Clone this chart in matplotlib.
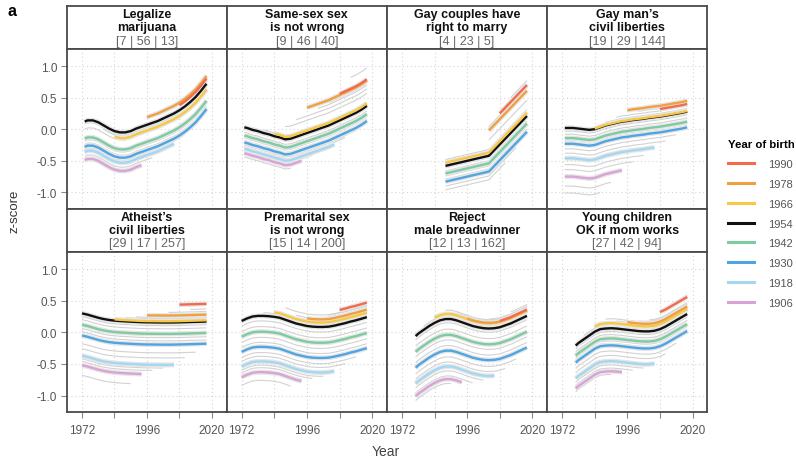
import numpy as np
import matplotlib
matplotlib.use('Agg')
import matplotlib.pyplot as plt
from matplotlib.lines import Line2D

plt.rcParams['font.family'] = ['Liberation Sans', 'DejaVu Sans']

# ---------------- data ----------------
cohorts = [1898, 1902, 1906, 1910, 1914, 1918, 1922, 1926, 1930, 1934, 1938, 1942,
           1946, 1950, 1954, 1958, 1962, 1966, 1970, 1974, 1978, 1982, 1986, 1990, 1994]
highlight = [1990, 1978, 1966, 1954, 1942, 1930, 1918, 1906]
highlight_colors = ['#F26B4F', '#F0A040', '#F7C845', '#111111',
                    '#7ECBA1', '#4FA5E2', '#A5D7F2', '#D9A3D6']

titles = [("Legalize", "marijuana"), ("Same-sex sex", "is not wrong"),
          ("Gay couples have", "right to marry"), ("Gay man\u2019s", "civil liberties"),
          ("Atheist\u2019s", "civil liberties"), ("Premarital sex", "is not wrong"),
          ("Reject", "male breadwinner"), ("Young children", "OK if mom works")]
counts = ["[7 | 56 | 13]", "[9 | 46 | 40]", "[4 | 23 | 5]", "[19 | 29 | 144]",
          "[29 | 17 | 257]", "[15 | 14 | 200]", "[12 | 13 | 162]", "[27 | 42 | 94]"]

years_73 = [1973, 1974, 1976, 1978, 1980, 1982, 1984, 1986, 1988, 1990, 1992, 1994,
            1996, 1998, 2000, 2002, 2004, 2006, 2008, 2010, 2012, 2014, 2016, 2018]
years_72 = [1972, 1974, 1976, 1978, 1980, 1982, 1984, 1986, 1988, 1990, 1992, 1994,
            1996, 1998, 2000, 2002, 2004, 2006, 2008, 2010, 2012, 2014, 2016, 2018]
years_77 = [1977, 1978, 1980, 1982, 1984, 1986, 1988, 1990, 1992, 1994,
            1996, 1998, 2000, 2002, 2004, 2006, 2008, 2010, 2012, 2014, 2016, 2018]
years_88 = [1988, 2004, 2006, 2008, 2010, 2012, 2014, 2016, 2018]

# z-score of the 1954 cohort (black line) in each survey year
ref_marijuana = [0.12, 0.14, 0.14, 0.11, 0.06, 0.01, -0.03, -0.05, -0.05, -0.03, 0.01, 0.04,
                 0.07, 0.10, 0.13, 0.17, 0.21, 0.25, 0.30, 0.36, 0.43, 0.51, 0.61, 0.72]
ref_samesex = [0.03, 0.02, -0.01, -0.03, -0.06, -0.08, -0.11, -0.13, -0.16, -0.15, -0.12, -0.09,
               -0.06, -0.03, 0.00, 0.03, 0.06, 0.10, 0.14, 0.18, 0.22, 0.26, 0.31, 0.37]
ref_marry = [-0.58, -0.42, -0.33, -0.24, -0.15, -0.06, 0.03, 0.12, 0.21]
ref_gayman = [0.02, 0.02, 0.02, 0.01, 0.00, -0.01, 0.00, 0.03, 0.06, 0.08, 0.10, 0.12,
              0.13, 0.145, 0.155, 0.165, 0.18, 0.19, 0.20, 0.215, 0.23, 0.245, 0.26, 0.28]
ref_atheist = [0.30, 0.28, 0.255, 0.23, 0.21, 0.195, 0.185, 0.178, 0.173, 0.168, 0.164, 0.16,
               0.158, 0.157, 0.156, 0.155, 0.155, 0.156, 0.158, 0.16, 0.163, 0.165, 0.168, 0.17]
ref_premarital = [0.18, 0.22, 0.25, 0.26, 0.26, 0.255, 0.245, 0.23, 0.20, 0.17, 0.14, 0.12,
                  0.10, 0.09, 0.085, 0.085, 0.09, 0.105, 0.125, 0.145, 0.17, 0.19, 0.215, 0.24]
ref_breadwinner = [-0.06, -0.02, 0.04, 0.10, 0.15, 0.19, 0.21, 0.21, 0.19, 0.16, 0.13,
                   0.10, 0.08, 0.065, 0.06, 0.065, 0.08, 0.11, 0.14, 0.18, 0.22, 0.26]
ref_momworks = [-0.21, -0.17, -0.11, -0.05, 0.01, 0.05, 0.06, 0.065, 0.06, 0.05, 0.04,
                0.03, 0.02, 0.015, 0.015, 0.025, 0.05, 0.09, 0.14, 0.19, 0.24, 0.29]

# cohort shift relative to the 1954 cohort (None = not shown)
off_marijuana = [None, None, -0.61, -0.55, -0.50, -0.48, -0.44, -0.42, -0.40, -0.36, -0.31, -0.27,
                 -0.12, -0.04, 0.0, -0.03, -0.06, -0.09, -0.04, 0.03, 0.12, 0.09, 0.11, 0.08, 0.14]
off_samesex = [None, -0.47, -0.41, -0.38, -0.36, -0.34, -0.31, -0.28, -0.24, -0.21, -0.17, -0.13,
               -0.08, -0.03, 0.0, 0.03, 0.05, 0.04, 0.20, 0.27, 0.40, 0.33, 0.36, 0.42, 0.60]
off_marry = [None, None, None, None, None, None, -0.38, -0.32, -0.25, -0.21, -0.16, -0.12,
             -0.08, -0.03, 0.0, 0.03, 0.06, 0.05, 0.10, 0.25, 0.40, 0.45, 0.46, 0.49, 0.56]
off_gayman = [-1.03, -0.92, -0.77, -0.66, -0.58, -0.48, -0.40, -0.33, -0.25, -0.22, -0.19, -0.16,
              -0.10, -0.05, 0.0, 0.0, 0.01, 0.01, 0.05, 0.09, 0.17, 0.13, 0.14, 0.12, 0.18]
off_atheist = [None, -0.98, -0.82, -0.76, -0.72, -0.67, -0.56, -0.48, -0.35, -0.29, -0.24, -0.18,
               -0.10, -0.05, 0.0, 0.0, 0.01, 0.02, 0.06, 0.08, 0.11, 0.12, 0.16, 0.28, 0.20]
off_premarital = [None, -1.02, -0.89, -0.82, -0.78, -0.72, -0.64, -0.58, -0.49, -0.42, -0.34, -0.25,
                  -0.17, -0.08, 0.0, 0.02, 0.05, 0.07, 0.19, 0.13, 0.12, 0.15, 0.18, 0.23, 0.25]
off_breadwinner = [None, -1.02, -0.95, -0.90, -0.82, -0.75, -0.68, -0.60, -0.50, -0.42, -0.33, -0.25,
                   -0.16, -0.06, 0.0, 0.03, 0.06, 0.08, 0.14, 0.12, 0.09, 0.12, 0.15, 0.10, 0.18]
off_momworks = [None, -0.73, -0.68, -0.63, -0.58, -0.52, -0.43, -0.36, -0.27, -0.24, -0.20, -0.16,
                -0.10, -0.05, 0.0, 0.03, 0.06, 0.08, 0.15, 0.12, 0.12, 0.16, 0.18, 0.27, 0.30]

panel_years = [years_73, years_73, years_88, years_73, years_72, years_72, years_77, years_77]
panel_ref = [ref_marijuana, ref_samesex, ref_marry, ref_gayman,
             ref_atheist, ref_premarital, ref_breadwinner, ref_momworks]
panel_off = [off_marijuana, off_samesex, off_marry, off_gayman,
             off_atheist, off_premarital, off_breadwinner, off_momworks]

MIN_AGE, MAX_AGE = 18, 88

# ---------------- layout ----------------
W, H = 796, 464
fig = plt.figure(figsize=(W / 100, H / 100), dpi=100)


def rect(l, t, r, b):
    return [l / W, 1 - b / H, (r - l) / W, (b - t) / H]


col_edges = [67, 226.5, 387, 547, 707.3]
rows = [((7, 50), (50, 209.5)), ((209.5, 253), (253, 412.7))]
EDGE = '#4a4a4a'
color_of = dict(zip(highlight, highlight_colors))

for p in range(8):
    r, c = divmod(p, 4)
    (st, sb), (pt, pb) = rows[r]
    l, rr = col_edges[c], col_edges[c + 1]

    # strip
    sax = fig.add_axes(rect(l, st, rr, sb))
    sax.set_xticks([]); sax.set_yticks([])
    for s in sax.spines.values():
        s.set_color(EDGE); s.set_linewidth(1.3)
    sax.text(0.5, 1 - 8.3 / 43, titles[p][0], ha='center', va='center', fontsize=9,
             fontweight='bold', color='#111', transform=sax.transAxes)
    sax.text(0.5, 1 - 20.8 / 43, titles[p][1], ha='center', va='center', fontsize=9,
             fontweight='bold', color='#111', transform=sax.transAxes)
    sax.text(0.5, 1 - 34.5 / 43, counts[p], ha='center', va='center', fontsize=9,
             color='#666', transform=sax.transAxes)

    # plot area
    ax = fig.add_axes(rect(l, pt, rr, pb))
    ax.set_xlim(1966.45, 2025.4)
    ax.set_ylim(-1.255, 1.27)
    for s in ax.spines.values():
        s.set_color(EDGE); s.set_linewidth(1.3)
    ax.set_xticks([1972, 1984, 1996, 2008, 2020])
    ax.set_yticks([-1.0, -0.5, 0.0, 0.5, 1.0])
    ax.grid(True, color='#d4d4d4', linewidth=0.8, linestyle=(0, (1, 2.5)))
    ax.set_axisbelow(True)
    if r == 1:
        ax.set_xticklabels(['1972', '', '1996', '', '2020'])
        ax.tick_params(axis='x', length=4, width=0.8, color='#888', labelsize=8.5,
                       labelcolor='#555', pad=5)
    else:
        ax.tick_params(axis='x', length=0, labelbottom=False)
    if c == 0:
        ax.set_yticklabels(['-1.0', '-0.5', '0.0', '0.5', '1.0'])
        ax.tick_params(axis='y', length=4, width=0.8, color='#888', labelsize=8.5,
                       labelcolor='#555', pad=3)
    else:
        ax.tick_params(axis='y', length=0, labelleft=False)

    yrs = np.array(panel_years[p], dtype=float)
    ref = np.array(panel_ref[p], dtype=float)
    first, last = yrs.min(), yrs.max()

    def segment(cy, off):
        lo = max(first, cy + MIN_AGE)
        hi = min(last, cy + MAX_AGE)
        m = (yrs >= lo) & (yrs <= hi)
        if m.sum() < 2:
            return None
        return yrs[m], ref[m] + off

    # grey cohorts
    for cy, off in zip(cohorts, panel_off[p]):
        if off is None or cy in color_of:
            continue
        seg = segment(cy, off)
        if seg is not None:
            ax.plot(seg[0], seg[1], color='#d2d2d2', lw=0.8, solid_capstyle='butt', zorder=2)
    # highlighted cohorts (oldest first)
    for cy, off in zip(cohorts, panel_off[p]):
        if off is None or cy not in color_of:
            continue
        seg = segment(cy, off)
        if seg is not None:
            ax.plot(seg[0], seg[1], color='#e6e6e6', lw=3.6, solid_capstyle='butt', zorder=3)
            ax.plot(seg[0], seg[1], color=color_of[cy], lw=1.7, solid_capstyle='butt', zorder=4)

# labels
fig.text(12 / W, 1 - 12 / H, 'a', fontsize=11.5, fontweight='bold', ha='center', va='center')
fig.text(14 / W, 1 - 211 / H, 'z-score', rotation=90, fontsize=9.5, color='#333',
         ha='center', va='center')
fig.text(386 / W, 1 - 452 / H, 'Year', fontsize=10, color='#444', ha='center', va='center')

# legend
handles = [Line2D([0], [0], color=col, lw=2.2) for col in highlight_colors]
leg = fig.legend(handles, [str(h) for h in highlight], title='Year of birth',
                 loc='upper left', bbox_to_anchor=(724 / W, 1 - 136 / H), frameon=False,
                 fontsize=8, handlelength=2.3, handletextpad=1.3, labelspacing=0.88,
                 borderaxespad=0, alignment='left',
                 title_fontproperties={'weight': 'bold', 'size': 8.2})
for t in leg.get_texts():
    t.set_color('#555')

fig.savefig('out.png', dpi=100)
